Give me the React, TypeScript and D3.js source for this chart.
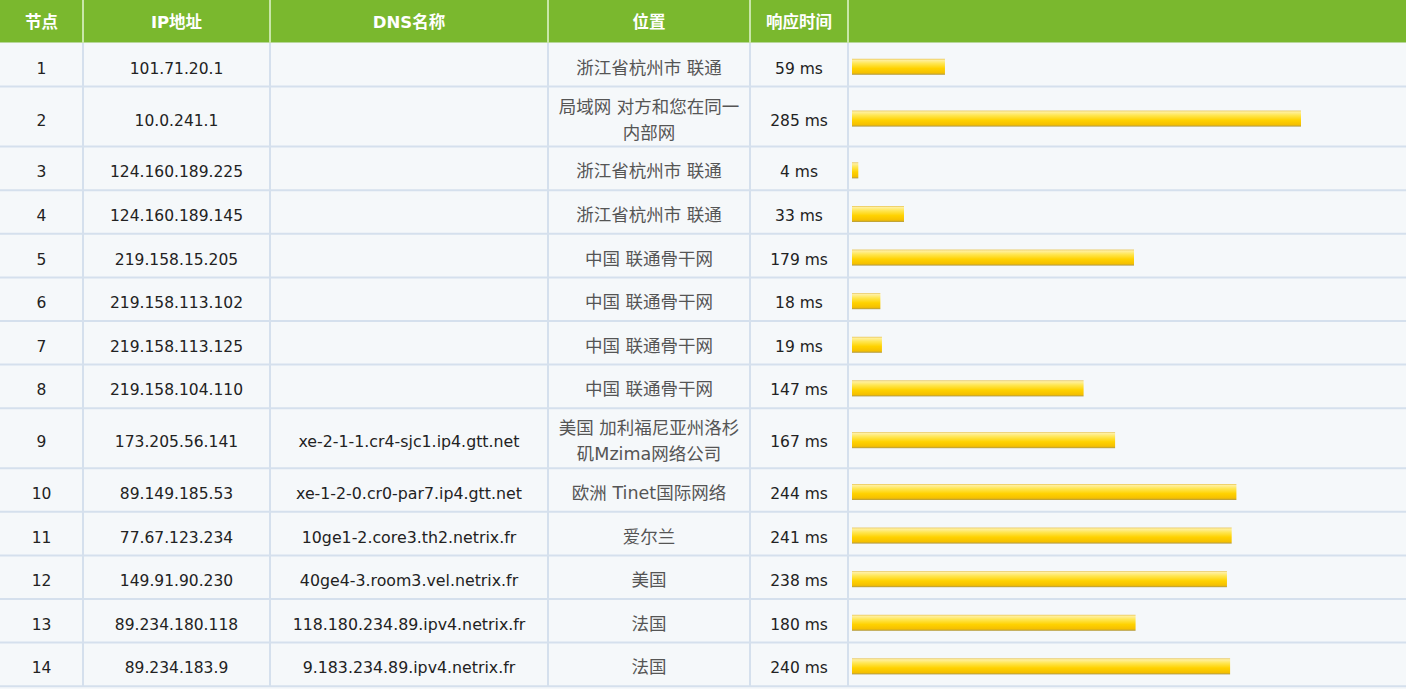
import React, { useEffect, useRef } from "react";
import * as d3 from "d3";

const headers = ["节点", "IP地址", "DNS名称", "位置", "响应时间", ""];
const hops = ["1", "2", "3", "4", "5", "6", "7", "8", "9", "10", "11", "12", "13", "14"];
const ips = [
    "101.71.20.1", "10.0.241.1", "124.160.189.225", "124.160.189.145", "219.158.15.205",
    "219.158.113.102", "219.158.113.125", "219.158.104.110", "173.205.56.141", "89.149.185.53",
    "77.67.123.234", "149.91.90.230", "89.234.180.118", "89.234.183.9",
];
const dnsNames = [
    "", "", "", "", "", "", "", "",
    "xe-2-1-1.cr4-sjc1.ip4.gtt.net", "xe-1-2-0.cr0-par7.ip4.gtt.net",
    "10ge1-2.core3.th2.netrix.fr", "40ge4-3.room3.vel.netrix.fr",
    "118.180.234.89.ipv4.netrix.fr", "9.183.234.89.ipv4.netrix.fr",
];
const locations = [
    "浙江省杭州市 联通", "局域网 对方和您在同一\n内部网", "浙江省杭州市 联通", "浙江省杭州市 联通",
    "中国 联通骨干网", "中国 联通骨干网", "中国 联通骨干网", "中国 联通骨干网",
    "美国 加利福尼亚州洛杉\n矶Mzima网络公司", "欧洲 Tinet国际网络", "爱尔兰", "美国", "法国", "法国",
];
const times = [59, 285, 4, 33, 179, 18, 19, 147, 167, 244, 241, 238, 180, 240];

export default function App() {
    const ref = useRef<SVGSVGElement>(null);

    useEffect(() => {
        const width = 1406, height = 689;
        const headH = 43, rowH = 43.6, tallH = 60;
        const cols = [0, 83, 270, 548, 750, 848, width];
        const font = "'DejaVu Sans', 'Noto Sans CJK SC', sans-serif";

        const svg = d3.select(ref.current);
        svg.selectAll("*").remove();
        svg.attr("width", width).attr("height", height);

        const defs = svg.append("defs");
        const grad = defs.append("linearGradient")
            .attr("id", "barGrad").attr("x1", 0).attr("y1", 0).attr("x2", 0).attr("y2", 1);
        [
            [0, "#e6c04a"], [0.08, "#fff0a0"], [0.3, "#ffe650"], [0.6, "#ffd200"],
            [0.88, "#f5c000"], [1, "#b09a48"],
        ].forEach(([o, c]) => grad.append("stop").attr("offset", o as number).attr("stop-color", c as string));

        // row positions
        const rows = hops.map((h, i) => ({
            i, h: locations[i].includes("\n") ? tallH : rowH,
        }));
        let acc = headH;
        const tops = rows.map(r => { const t = acc; acc += r.h; return t; });

        svg.append("rect").attr("width", width).attr("height", height).attr("fill", "#f5f8fa");

        // header
        svg.append("rect").attr("width", width).attr("height", headH).attr("fill", "#7ab82e");
        svg.append("line").attr("x1", 0).attr("x2", width).attr("y1", headH - 0.5).attr("y2", headH - 0.5)
            .attr("stroke", "#b8d79a").attr("stroke-width", 1);
        cols.slice(1, -1).forEach(x => {
            svg.append("line").attr("x1", x).attr("x2", x).attr("y1", 0).attr("y2", headH)
                .attr("stroke", "#c9e6a8").attr("stroke-width", 2);
        });
        headers.forEach((t, i) => {
            svg.append("text")
                .attr("x", (cols[i] + cols[i + 1]) / 2).attr("y", headH / 2 + 6)
                .attr("text-anchor", "middle").attr("fill", "#fff").attr("font-weight", "bold")
                .attr("font-size", 16.5).attr("font-family", font).text(t);
        });

        // grid lines
        const bodyBottom = acc;
        rows.forEach((r, i) => {
            const y = tops[i] + r.h;
            svg.append("line").attr("x1", 0).attr("x2", width).attr("y1", y).attr("y2", y)
                .attr("stroke", "#d5e0ed").attr("stroke-width", 2);
        });
        cols.slice(1, -1).forEach(x => {
            svg.append("line").attr("x1", x).attr("x2", x).attr("y1", headH).attr("y2", bodyBottom)
                .attr("stroke", "#d5e0ed").attr("stroke-width", 2);
        });

        const xScale = d3.scaleLinear().domain([0, 285]).range([852, 1301]);

        rows.forEach((r, i) => {
            const cy = tops[i] + r.h / 2;
            const cells = [hops[i], ips[i], dnsNames[i]];
            cells.forEach((t, c) => {
                svg.append("text")
                    .attr("x", (cols[c] + cols[c + 1]) / 2).attr("y", cy + 9)
                    .attr("text-anchor", "middle").attr("fill", "#222")
                    .attr("font-size", c === 2 ? 15.8 : 15.5).attr("font-family", font).text(t);
            });
            const lines = locations[i].split("\n");
            lines.forEach((t, k) => {
                svg.append("text")
                    .attr("x", (cols[3] + cols[4]) / 2)
                    .attr("y", cy + 9 + (k - (lines.length - 1) / 2) * 26)
                    .attr("text-anchor", "middle").attr("fill", "#555")
                    .attr("font-size", 17.5).attr("font-family", font).text(t);
            });
            svg.append("text")
                .attr("x", (cols[4] + cols[5]) / 2).attr("y", cy + 9)
                .attr("text-anchor", "middle").attr("fill", "#222")
                .attr("font-size", 15.5).attr("font-family", font).text(`${times[i]} ms`);

            svg.append("rect")
                .attr("x", xScale(0)).attr("y", cy - 6)
                .attr("width", xScale(times[i]) - xScale(0)).attr("height", 16)
                .attr("fill", "url(#barGrad)");
        });
    }, []);

    return (
        <div style={{ position: "absolute", left: 0, top: 0 }}>
            <svg ref={ref} style={{ display: "block" }}></svg>
        </div>
    );
}
